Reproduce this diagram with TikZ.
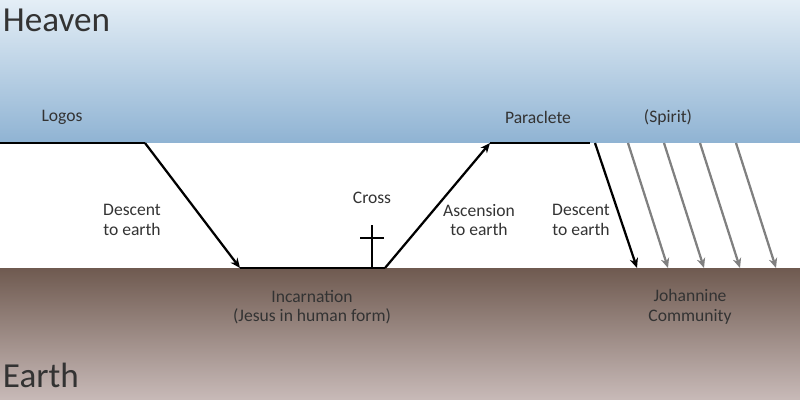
\documentclass[tikz,border=0pt]{standalone}
\usepackage{fontspec}
\setmainfont{Carlito}
\usepackage{tikz}
\usetikzlibrary{arrows.meta}
\definecolor{txt}{HTML}{333333}
\begin{document}
\begin{tikzpicture}[x=0.025cm,y=-0.025cm,
	lbl/.style={text=txt,font=\fontsize{12.5}{14}\selectfont,align=center},
	big/.style={text=txt,font=\fontsize{25}{27}\selectfont,anchor=west},
	path/.style={line width=1.6pt,-{Stealth[length=7pt,width=6pt]}},
	rain/.style={line width=1.6pt,gray,-{Stealth[length=7pt,width=6pt]}}]
	\useasboundingbox (0,0) rectangle (800,400);
	\shade[top color={rgb,255:red,228;green,238;blue,246},bottom color={rgb,255:red,143;green,179;blue,211}] (0,0) rectangle (800,143);
	\shade[top color={rgb,255:red,111;green,90;blue,80},bottom color={rgb,255:red,200;green,186;blue,184}] (0,268) rectangle (800,400);
	
	\node[big] (heaven) at (-2,20) {Heaven};
	\node[big] (earth) at (-2,375) {Earth};
	
	\coordinate (L0) at (0,143);
	\coordinate (L1) at (145,143);
	\coordinate (I0) at (240,268);
	\coordinate (I1) at (385,268);
	\coordinate (P0) at (490,143);
	\coordinate (P1) at (590,143);
	\coordinate (D0) at (595,143);
	\coordinate (D1) at (637,268);
	
	\draw [line width=1.6pt] (L0) -- (L1);
	\draw [path] (L1) -- (I0);
	\draw [line width=1.6pt] (I0) -- (I1);
	\draw [path] (I1) -- (P0);
	\draw [line width=1.6pt] (P0) -- (P1);
	\draw [path] (D0) -- (D1);
	
	% cross
	\coordinate (C0) at (372,225);
	\coordinate (C1) at (372,268);
	\coordinate (C2) at (360,238);
	\coordinate (C3) at (384,238);
	\draw [line width=1.6pt] (C0) -- (C1);
	\draw [line width=1.6pt] (C2) -- (C3);
	
	% spirit
	\foreach \x in {628,664,700,736} {
		\draw [rain] (\x,143) -- (\x+40,268);
	}
	
	\node[lbl] (logos) at (62,117) {Logos};
	\node[lbl] (paraclete) at (538,117) {Paraclete};
	\node[lbl] (spirit) at (668,117) {(Spirit)};
	\node[lbl] (desc1) at (132,220) {Descent\\to earth};
	\node[lbl] (cross) at (372,198) {Cross};
	\node[lbl] (asc) at (479,220) {Ascension\\to earth};
	\node[lbl] (desc2) at (581,220) {Descent\\to earth};
	\node[lbl] (incarn) at (312,307) {Incarnation\\(Jesus in human form)};
	\node[lbl] (johann) at (690,307) {Johannine\\Community};
\end{tikzpicture}
\end{document}
